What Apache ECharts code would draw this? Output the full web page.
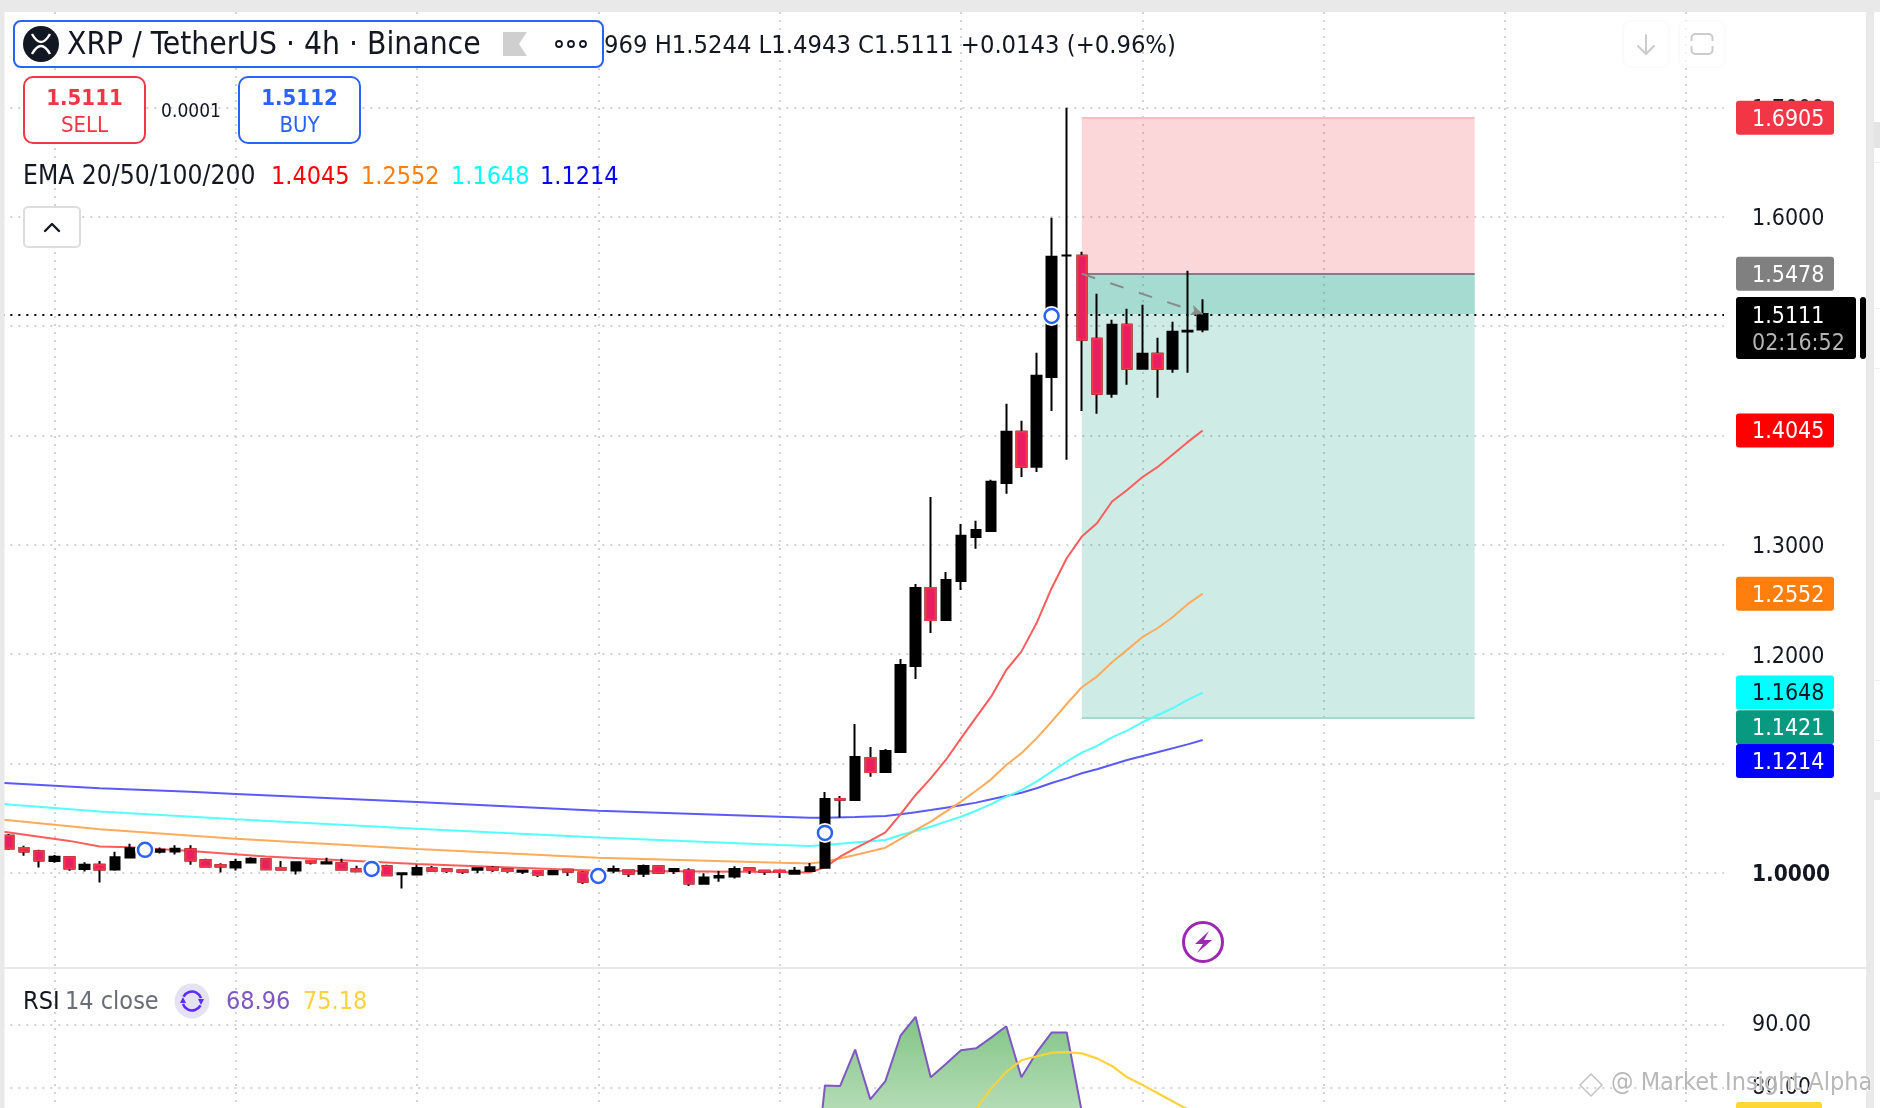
<!DOCTYPE html>
<html><head><meta charset="utf-8">
<style>html,body{margin:0;padding:0;background:#fff}#c{width:1880px;height:1108px}</style>
<script src="https://cdn.jsdelivr.net/npm/echarts@6/dist/echarts.min.js"></script>
</head><body><div id="c"></div>
<script>
// ---- data ----
const opens = [1.0337,1.0227,1.0197,1.0108,1.0142,1.0035,1.0072,1.0029,1.0139,1.0191,1.0191,1.0194,1.0215,1.0114,1.0069,1.0047,1.0093,1.0124,1.0044,1.0020,1.0108,1.0084,1.0087,1.0032,1.0026,1.0059,0.9986,0.9983,
 1.0040,1.0031,1.0021,1.0027,1.0046,1.0031,1.0009,1.0015,0.9985,1.0027,1.0003,0.9957,1.0021,1.0024,0.9991,1.0058,1.0015,1.0021,0.9899,0.9957,0.9966,1.0040,1.0018,1.0018,0.9991,1.0015,
 1.0046,1.0674,1.0665,1.1049,1.0921,1.1104,1.1891,1.2605,1.2312,1.2669,1.3071,1.3126,1.3565,1.4032,1.3712,1.4535,1.5646,1.5643,1.4883,1.4380,1.5011,1.4609,1.4746,1.4609,1.4950,1.4969];
const closes = [1.0221,1.0194,1.0111,1.0145,1.0038,1.0072,1.0029,1.0142,1.0224,1.0215,1.0209,1.0218,1.0111,1.0056,1.0056,1.0099,1.0127,1.0032,1.0029,1.0096,1.0093,1.0096,1.0029,1.0014,1.0044,0.9977,0.9995,1.0044,
 1.0018,1.0015,1.0009,1.0040,1.0027,1.0015,1.0021,0.9979,1.0015,1.0009,0.9918,0.9982,1.0034,0.9991,1.0061,1.0000,1.0034,0.9902,0.9957,0.9970,1.0034,1.0024,1.0009,1.0006,1.0018,1.0049,
 1.0674,1.0668,1.1058,1.0921,1.1113,1.1900,1.2605,1.2312,1.2678,1.3081,1.3135,1.3575,1.4032,1.3712,1.4545,1.5633,1.5646,1.4874,1.4380,1.5011,1.4609,1.4746,1.4609,1.4947,1.4956,1.5111];
const lows = [1.0209,1.0154,1.0047,1.0090,1.0017,1.0011,0.9910,1.0017,1.0139,1.0178,1.0175,1.0166,1.0072,1.0053,1.0002,1.0020,1.0090,1.0029,1.0029,0.9983,1.0075,1.0084,1.0029,1.0014,1.0011,0.9974,0.9855,0.9983,
 1.0018,0.9997,0.9988,0.9994,1.0006,1.0000,0.9988,0.9960,0.9982,0.9970,0.9896,0.9945,0.9994,0.9960,0.9960,0.9988,0.9988,0.9878,0.9899,0.9918,0.9948,0.9988,0.9979,0.9951,0.9991,1.0015,
 1.0046,1.0506,1.0665,1.0878,1.0921,1.1104,1.1772,1.2193,1.2303,1.2586,1.2962,1.3126,1.3465,1.3620,1.3666,1.4224,1.3776,1.4224,1.4197,1.4343,1.4462,1.4609,1.4343,1.4572,1.4572,1.4943];
const highs = [1.0355,1.0246,1.0209,1.0163,1.0142,1.0096,1.0108,1.0191,1.0264,1.0230,1.0230,1.0252,1.0252,1.0127,1.0087,1.0127,1.0142,1.0127,1.0108,1.0096,1.0117,1.0136,1.0127,1.0063,1.0069,1.0072,0.9995,1.0072,
 1.0061,1.0031,1.0021,1.0040,1.0061,1.0031,1.0021,1.0015,1.0015,1.0034,1.0015,1.0000,1.0067,1.0027,1.0076,1.0058,1.0043,1.0040,0.9994,1.0015,1.0058,1.0040,1.0018,1.0024,1.0052,1.0088,
 1.0738,1.0702,1.1360,1.1150,1.1132,1.1955,1.2641,1.3437,1.2751,1.3190,1.3218,1.3593,1.4290,1.4133,1.4755,1.5990,1.6997,1.5679,1.5295,1.5057,1.5158,1.5194,1.4892,1.5039,1.5505,1.5244];
// [bar, value] readings of the moving averages (bar -1 lies just left of the visible edge)
const ema20 = [[-1,1.0385],[0,1.0368],[4,1.0291],[6,1.0239],[8,1.0233],[12,1.0199],[17,1.0148],[27,1.0079],[39,1.0018],[51,1.0006],[53,1.0003],[54,1.0049],[55,1.0146],[56,1.0223],[57,1.0293],[58,1.0369],[59,1.0534],[60,1.0711],[61,1.0863],[62,1.1031],[63,1.1229],[64,1.1421],[65,1.1610],[66,1.1854],[67,1.2022],[68,1.2281],[69,1.2602],[70,1.2876],[71,1.3074],[72,1.3196],[73,1.3395],[74,1.3501],[75,1.3617],[76,1.3709],[77,1.3822],[78,1.3938],[79,1.4045]];
const ema50 = [[-1,1.0490],[0,1.0480],[6,1.0397],[15,1.0310],[27,1.0216],[39,1.0137],[51,1.0092],[53,1.0085],[54,1.0101],[56,1.0162],[58,1.0229],[60,1.0390],[61,1.0467],[62,1.0558],[63,1.0650],[64,1.0750],[65,1.0854],[66,1.0985],[67,1.1092],[68,1.1229],[69,1.1382],[70,1.1543],[71,1.1696],[72,1.1794],[73,1.1925],[74,1.2038],[75,1.2154],[76,1.2236],[77,1.2337],[78,1.2456],[79,1.2552]];
const ema100 = [[-1,1.0635],[0,1.0624],[6,1.0560],[15,1.0490],[27,1.0401],[39,1.0323],[51,1.0253],[53,1.0244],[54,1.0253],[58,1.0299],[59,1.0345],[60,1.0381],[61,1.0421],[62,1.0467],[63,1.0512],[64,1.0567],[65,1.0628],[66,1.0695],[67,1.0756],[68,1.0833],[69,1.0924],[70,1.1016],[71,1.1098],[72,1.1159],[73,1.1238],[74,1.1299],[75,1.1376],[76,1.1440],[77,1.1504],[78,1.1580],[79,1.1648]];
const ema200 = [[-1,1.0825],[0,1.0819],[6,1.0773],[12,1.0740],[15,1.0721],[27,1.0646],[39,1.0567],[51,1.0512],[53,1.0503],[54,1.0503],[56,1.0509],[58,1.0519],[59,1.0534],[60,1.0552],[61,1.0573],[62,1.0595],[63,1.0616],[64,1.0641],[65,1.0671],[66,1.0702],[67,1.0732],[68,1.0772],[69,1.0820],[70,1.0863],[71,1.0909],[72,1.0946],[74,1.1031],[76,1.1102],[78,1.1174],[79,1.1214]];
const signalBars = [[9,1.0209],[24,1.0035],[39,0.99695],[54,1.0364],[69,1.5092]];
const rsi = [[53,57.7],[54,80.4],[55,80.3],[56,86.1],[57,78.2],[58,81.1],[59,88.3],[60,91.3],[61,81.7],[62,83.8],[63,86.0],[64,86.3],[65,88.0],[66,89.8],[67,81.7],[68,85.6],[69,88.8],[70,88.8],[71,76.2],[72,66],[73,69],[74,65],[75,67],[76,64],[77,67],[78,67],[79,68.96]];
const rsiMa = [[62,71],[63,73.8],[64,76.7],[65,79.9],[66,82.6],[67,84.4],[68,85.0],[69,85.6],[70,85.7],[71,85.5],[72,84.7],[73,83.5],[74,81.7],[75,80.5],[76,79.2],[77,77.9],[78,76.6],[79,75.18]];
const priceNow = 1.5111, entry = 1.5478, target = 1.1421, stop = 1.6905;
const tagValues = ['1.6905','1.5478','1.4045','1.2552','1.1648','1.1421','1.1214'];
const tagFills  = ['#f23645','#808080','#ff0000','#ff7f0e','#00ffff','#089981','#0000ff'];
const tagInks   = ['#fff','#fff','#fff','#fff','#131722','#fff','#fff'];
const barCount = 115;                 // one hidden bar before the first visible one
const categories = Array.from({length:barCount},(_,i)=>'b'+(i-1));

// ---- layout ----
const FF = '"DejaVu Sans Condensed","DejaVu Sans",sans-serif';
const band = 15.11, left = 1.45-band;
const gridDot = {color:'#d2d2d2',width:2,type:[2,6]};
const pad = a => a.map(([i,v])=>[i+1,v]);
const NONE=['-','-','-','-'];
const toCandles = categories.map((_,k)=>{const i=k-1; return (i>=0&&i<opens.length)?[opens[i],closes[i],lows[i],highs[i]]:NONE;});
const downBodies = categories.map((_,k)=>{const i=k-1; return (i>=0&&i<opens.length&&closes[i]<opens[i])?[opens[i],closes[i],closes[i],opens[i]]:NONE;});
const priceFmt = v => { const s=v.toFixed(4); return Math.abs(v-1)<1e-6 ? '{b|'+s+'}' : s; };
const hiddenX = (gridIndex,extra)=>Object.assign({type:'category',gridIndex,data:categories,boundaryGap:true,axisLine:{show:false},axisTick:{show:false},axisLabel:{show:false},splitLine:{show:false}},extra||{});
const line = (data,color)=>({type:'line',xAxisIndex:0,yAxisIndex:0,data:pad(data),showSymbol:false,symbol:'none',lineStyle:{color,width:2},z:2,silent:true,animation:false});
const gx = {left,width:band*barCount,outerBoundsMode:'none'};

const chart = echarts.init(document.getElementById('c'),null,{renderer:'canvas'});
chart.setOption({
  animation:false,backgroundColor:'#fff',
  grid:[
    Object.assign({top:-1.96,height:984},gx),
    Object.assign({top:962,height:189},gx),
    Object.assign({top:12,height:1096},gx)
  ],
  xAxis:[hiddenX(0),hiddenX(1),hiddenX(2,{splitLine:{show:true,alignWithLabel:true,interval:(i)=>(i-4)%12===0,lineStyle:gridDot}})],
  yAxis:[
    {type:'value',gridIndex:0,position:'right',min:0.9,max:1.8,interval:0.1,
     axisLine:{show:false},axisTick:{show:false},
     splitLine:{show:true,showMinLine:false,showMaxLine:false,lineStyle:gridDot},
     axisLabel:{show:true,inside:false,margin:28,showMinLabel:false,showMaxLabel:false,formatter:priceFmt,color:'#131722',fontFamily:FF,fontSize:23,align:'left',padding:[5,0,0,0],
       rich:{b:{fontWeight:'bold',color:'#131722',fontFamily:FF,fontSize:22.5}}}},
    {type:'value',gridIndex:1,position:'right',min:70,max:100,interval:10,
     axisLine:{show:false},axisTick:{show:false},
     splitLine:{show:true,showMinLine:false,showMaxLine:false,lineStyle:gridDot},
     axisLabel:{show:true,margin:28,showMinLabel:false,showMaxLabel:false,formatter:v=>v.toFixed(2),color:'#131722',fontFamily:FF,fontSize:23,align:'left',padding:[5,0,0,0]}},
    {type:'value',gridIndex:2,min:0,max:1,show:false,splitLine:{show:false}}
  ],
  series:[
    {type:'line',xAxisIndex:0,yAxisIndex:0,data:[],z:1,silent:true,
     markArea:{silent:true,z:1,label:{show:false},data:[
       [{xAxis:72,yAxis:stop,itemStyle:{color:'rgba(242,54,69,0.2)'}},{xAxis:98,yAxis:entry}],
       [{xAxis:72,yAxis:entry,itemStyle:{color:'rgba(8,153,129,0.2)'}},{xAxis:98,yAxis:target}],
       [{xAxis:72,yAxis:entry,itemStyle:{color:'rgba(8,153,129,0.2)'}},{xAxis:98,yAxis:priceNow}]
     ]},
     markLine:{silent:true,symbol:'none',z:1,label:{show:false},animation:false,data:[
       [{xAxis:72,yAxis:stop,lineStyle:{color:'#f9bcc1',width:2,type:'solid'}},{xAxis:98,yAxis:stop}],
       [{xAxis:72,yAxis:entry,lineStyle:{color:'#808080',width:2,type:'solid'}},{xAxis:98,yAxis:entry}],
       [{xAxis:72,yAxis:target,lineStyle:{color:'#a5d9cf',width:2,type:'solid'}},{xAxis:98,yAxis:target}],
       {yAxis:priceNow,lineStyle:{color:'#000',width:2,type:[2,6]}}
     ]}},
    line(ema200,'#5a5aff'),
    line(ema100,'#55ffff'),
    line(ema50,'#ffab5c'),
    line(ema20,'#ff5c5c'),
    {type:'candlestick',xAxisIndex:0,yAxisIndex:0,data:toCandles,barWidth:10,z:3,silent:true,
     itemStyle:{color:'#000',color0:'#000',borderColor:'#000',borderColor0:'#000',borderColorDoji:'#000',borderWidth:2}},
    {type:'candlestick',xAxisIndex:0,yAxisIndex:0,data:downBodies,barWidth:10,z:4,silent:true,
     itemStyle:{color:'#e91e63',color0:'#e91e63',borderColor:'#f23645',borderColor0:'#f23645',borderColorDoji:'#f23645',borderWidth:2}},
    {type:'line',xAxisIndex:0,yAxisIndex:0,data:[],z:4,silent:true,
     markLine:{silent:true,z:5,symbol:['none','arrow'],symbolSize:[8,12],label:{show:false},animation:false,data:[
       [{xAxis:72,yAxis:entry,lineStyle:{color:'#8a8a8a',width:2,type:[14,16]}},{xAxis:80,yAxis:priceNow}]
     ]}},
    {type:'scatter',xAxisIndex:0,yAxisIndex:0,data:pad(signalBars),symbol:'circle',symbolSize:20,itemStyle:{color:'#fff',opacity:1},z:6,silent:true},
    {type:'scatter',xAxisIndex:0,yAxisIndex:0,data:pad(signalBars),symbol:'circle',symbolSize:14,itemStyle:{color:'#fff',borderColor:'#2962ff',borderWidth:2.5,opacity:1},z:7,silent:true},
    {type:'line',xAxisIndex:1,yAxisIndex:1,data:pad(rsi),showSymbol:false,symbol:'none',z:3,silent:true,lineStyle:{color:'#7e57c2',width:2},
     areaStyle:{origin:'start',opacity:1,color:{type:'linear',x:0,y:0,x2:0,y2:1,colorStops:[{offset:0,color:'#82c485'},{offset:1,color:'#f4fbf4'}]}}},
    {type:'line',xAxisIndex:1,yAxisIndex:1,data:pad(rsiMa),showSymbol:false,symbol:'none',z:4,silent:true,lineStyle:{color:'#fdd23c',width:2.2}}
  ]
});

// ---- chrome ----
const Z=100;
const font=(s,w)=>`${w||'normal'} ${s}px ${FF}`;
const T=(x,y,text,size,fill,o)=>({type:'text',x,y,z:Z+20,silent:true,style:Object.assign({text,fill,font:font(size,o&&o.w),textAlign:(o&&o.a)||'left',textVerticalAlign:'middle'},(o&&o.s)||{})});
const R=(x,y,w,h,fill,o)=>({type:'rect',z:(o&&o.z)||Z,silent:true,shape:{x,y,width:w,height:h,r:(o&&o.r)||0},style:{fill,stroke:(o&&o.stroke)||null,lineWidth:(o&&o.lw)||0}});
const L=(pts,stroke,lw,z)=>({type:'polyline',z:z||Z+2,silent:true,shape:{points:pts},style:{stroke,lineWidth:lw,fill:null,lineCap:'round',lineJoin:'round'}});
const P=(pts,fill,z)=>({type:'polygon',z:z||Z+2,silent:true,shape:{points:pts},style:{fill}});
const C=(cx,cy,r,fill,stroke,lw)=>({type:'circle',z:Z+2,silent:true,shape:{cx,cy,r},style:{fill:fill||null,stroke:stroke||null,lineWidth:lw||0}});
const Arc=(cx,cy,r,a,b,stroke,lw)=>({type:'arc',z:Z+3,silent:true,shape:{cx,cy,r,startAngle:a,endAngle:b},style:{stroke,lineWidth:lw,fill:null}});
const Q=(x1,y1,cx,cy,x2,y2,stroke,lw)=>({type:'bezierCurve',z:Z+3,silent:true,shape:{x1,y1,x2,y2,cpx1:cx,cpy1:cy},style:{stroke,lineWidth:lw,fill:null}});

const yOf=v=>chart.convertToPixel({yAxisIndex:0},v);
const tagShift=[0,0,0,0,0,10,21];
const els=[
  // page frame
  R(0,0,1880,12,'#e9e9e9'),R(0,0,4.5,1108,'#e9e9e9'),R(1866,0,8,1108,'#e9e9e9'),R(1874,12,6,1096,'#fff'),
  R(1874,122,6,26,'#e4e4e4'),R(1874,162,6,1,'#efefef'),R(1874,308,6,1,'#efefef'),R(1874,368,6,1,'#efefef'),R(1874,680,6,1,'#efefef'),R(1874,740,6,1,'#efefef'),R(1874,792,6,8,'#e9e9e9'),
  R(4,967,1862,2,'#e9e9e9'),
  // symbol header
  R(14,21,589,46,'#fff',{r:7,stroke:'#2962ff',lw:2}),
  C(41,44,18,'#131722'),
  Q(32,34,41,50,50,34,'#fff',2.4),Q(32,54,41,38,50,54,'#fff',2.4),
  T(67,46,'XRP / TetherUS · 4h · Binance',31.5,'#131722'),
  P([[503,32],[527,32],[519,44],[527,56],[503,56]],'#cfcfcf'),
  C(559,44,3,null,'#131722',1.8),C(571,44,3,null,'#131722',1.8),C(583,44,3,null,'#131722',1.8),
  T(604,46,'969 H1.5244 L1.4943 C1.5111 +0.0143 (+0.96%)',25.3,'#131722'),
  // buy / sell
  R(24,77,121,66,'#fff',{r:9,stroke:'#f23645',lw:2}),
  T(84.5,99,'1.5111',22,'#f23645',{a:'center',w:'bold'}),T(84.5,126,'SELL',22,'#f23645',{a:'center'}),
  T(191,112,'0.0001',19,'#131722',{a:'center'}),
  R(239,77,121,66,'#fff',{r:9,stroke:'#2962ff',lw:2}),
  T(299.5,99,'1.5112',22,'#2962ff',{a:'center',w:'bold'}),T(299.5,126,'BUY',22,'#2962ff',{a:'center'}),
  // EMA legend
  T(23,177,'EMA 20/50/100/200',26.2,'#131722'),
  T(271,177,'1.4045',25,'#ff0000'),T(361,177,'1.2552',25,'#ff7f0e'),T(451,177,'1.1648',25,'#00ffff'),T(540,177,'1.1214',25,'#0000ff'),
  R(24,207,56,40,'#fff',{r:4,stroke:'#dddddd',lw:2}),
  L([[45,231],[52,224],[59,231]],'#131722',2.4),
  // top right buttons
  R(1623,21,46,46,'rgba(255,255,255,0.7)',{r:8,stroke:'#fafafa',lw:1.5}),
  L([[1646,35],[1646,54]],'#cccccc',2),L([[1638,46],[1646,54],[1654,46]],'#cccccc',2),
  R(1679,21,46,46,'rgba(255,255,255,0.7)',{r:8,stroke:'#fafafa',lw:1.5}),
  R(1691.5,34,21,20,'#fff',{r:4,stroke:'#cccccc',lw:2,z:Z+2}),
  R(1689,41,26,5,'#fff',{z:Z+3}),
  // lightning
  C(1203,942,19.5,'#fff','#9c27b0',3),
  P([[1209,931],[1195,944],[1203,944],[1197,953],[1212,940],[1204,940]],'#9c27b0'),
  // RSI legend
  T(23,1002,'RSI',25,'#131722'),T(65,1002,'14 close',25,'#6a6d78'),
  C(192,1001,17.5,'#e5e2f5'),
  Arc(192,1001,9.5,Math.PI*1.15,Math.PI*1.9,'#5b2bff',2.6),Arc(192,1001,9.5,Math.PI*0.15,Math.PI*0.9,'#5b2bff',2.6),
  P([[180,1003],[186,1003],[183,997]],'#5b2bff',Z+4),P([[198,999],[204,999],[201,1005]],'#5b2bff',Z+4),
  T(226,1002,'68.96',25,'#7e57c2'),T(303,1002,'75.18',25,'#fdd23c'),
  // lower right tag & watermark
  R(1736,1102,86,10,'#fdd835',{r:3}),
  {type:'polygon',z:Z+4,silent:true,shape:{points:[[1580,1085],[1591,1074],[1602,1085],[1591,1096]]},style:{fill:null,stroke:'#c4c4c4',lineWidth:1.5}},
  T(1611,1083,'@ Market Insight Alpha',25,'#b0b0b0',{s:{stroke:'#fff',lineWidth:1.5,opacity:0.9}}),
];
tagValues.forEach((t,i)=>{
  const cy=yOf(parseFloat(t))+tagShift[i];
  els.push(R(1736,cy-17,98,34,tagFills[i],{r:3,z:Z+i}));
  els.push(T(1752,cy+2,t,23,tagInks[i],{}));
});
els.push(R(1736,297,120,62,'#000',{r:3,z:Z+1}),R(1860,297,6,62,'#000',{r:3,z:Z+1}),T(1752,317,'1.5111',23,'#fff'),T(1752,344,'02:16:52',23,'#b4b4b4'));
chart.setOption({graphic:{elements:els}});
</script></body></html>
